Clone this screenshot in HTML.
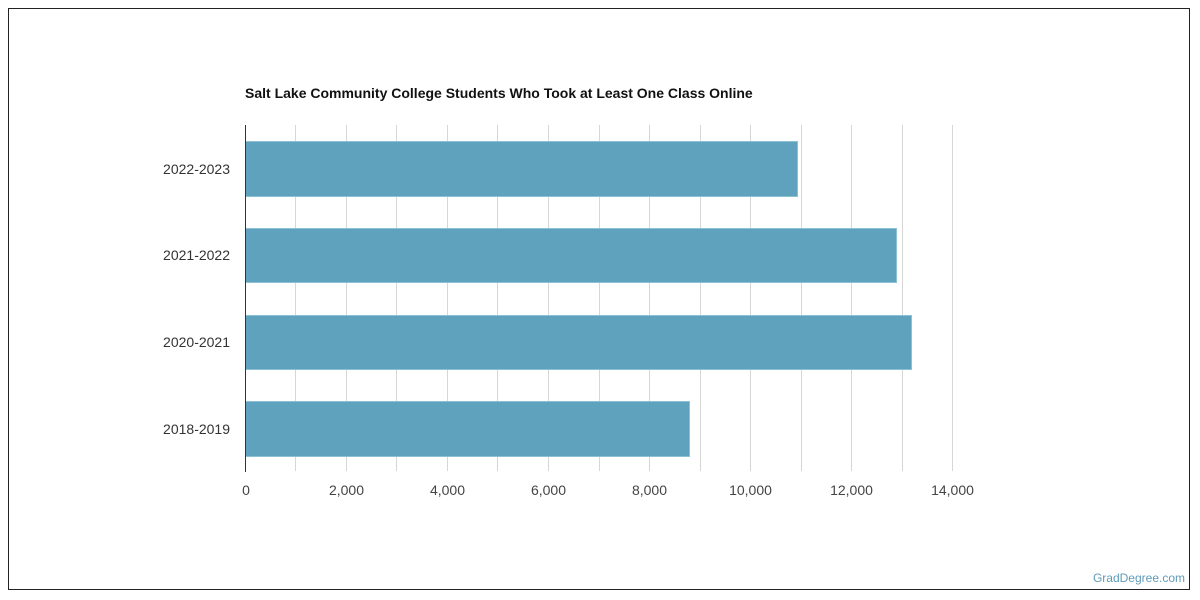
<!DOCTYPE html>
<html>
<head>
<meta charset="utf-8">
<style>
html,body{margin:0;padding:0;background:#fff;}
body{width:1200px;height:600px;overflow:hidden;position:relative;font-family:"Liberation Sans",sans-serif;}
svg{position:absolute;left:0;top:0;}
</style>
</head>
<body>
<svg width="1200" height="600" viewBox="0 0 1200 600" xmlns="http://www.w3.org/2000/svg">
  <rect x="8.5" y="8.5" width="1181" height="581" fill="#fff" stroke="#222" stroke-width="1"/>
  <text x="245" y="98" font-family="Liberation Sans, sans-serif" font-size="14" font-weight="bold" fill="#111">Salt Lake Community College Students Who Took at Least One Class Online</text>
  <!-- gridlines -->
  <g stroke="#d6d6d6" stroke-width="1">
    <line x1="295.5" y1="125" x2="295.5" y2="471"/>
    <line x1="346.5" y1="125" x2="346.5" y2="471"/>
    <line x1="396.5" y1="125" x2="396.5" y2="471"/>
    <line x1="447.5" y1="125" x2="447.5" y2="471"/>
    <line x1="497.5" y1="125" x2="497.5" y2="471"/>
    <line x1="548.5" y1="125" x2="548.5" y2="471"/>
    <line x1="599.5" y1="125" x2="599.5" y2="471"/>
    <line x1="649.5" y1="125" x2="649.5" y2="471"/>
    <line x1="700.5" y1="125" x2="700.5" y2="471"/>
    <line x1="750.5" y1="125" x2="750.5" y2="471"/>
    <line x1="801.5" y1="125" x2="801.5" y2="471"/>
    <line x1="851.5" y1="125" x2="851.5" y2="471"/>
    <line x1="902.5" y1="125" x2="902.5" y2="471"/>
    <line x1="952.5" y1="125" x2="952.5" y2="471"/>
  </g>
  <!-- bars -->
  <g fill="#5ea2be" stroke="#8cc0d5" stroke-width="1">
    <rect x="245.5" y="141.5" width="552" height="55"/>
    <rect x="245.5" y="228.5" width="651" height="54"/>
    <rect x="245.5" y="315.5" width="666" height="54"/>
    <rect x="245.5" y="401.5" width="444" height="55"/>
  </g>
  <line x1="245.5" y1="125" x2="245.5" y2="472" stroke="#333" stroke-width="1"/>
  <!-- y labels -->
  <g font-family="Liberation Sans, sans-serif" font-size="14" fill="#333" text-anchor="end">
    <text x="230" y="174">2022-2023</text>
    <text x="230" y="260">2021-2022</text>
    <text x="230" y="347">2020-2021</text>
    <text x="230" y="434">2018-2019</text>
  </g>
  <!-- x labels -->
  <g font-family="Liberation Sans, sans-serif" font-size="14" fill="#444" text-anchor="middle">
    <text x="246" y="495">0</text>
    <text x="346.5" y="495">2,000</text>
    <text x="447.5" y="495">4,000</text>
    <text x="548.5" y="495">6,000</text>
    <text x="649.5" y="495">8,000</text>
    <text x="750.5" y="495">10,000</text>
    <text x="851.5" y="495">12,000</text>
    <text x="952.5" y="495">14,000</text>
  </g>
  <text x="1185" y="582" font-family="Liberation Sans, sans-serif" font-size="12" fill="#5f9bb8" text-anchor="end">GradDegree.com</text>
</svg>
</body>
</html>
